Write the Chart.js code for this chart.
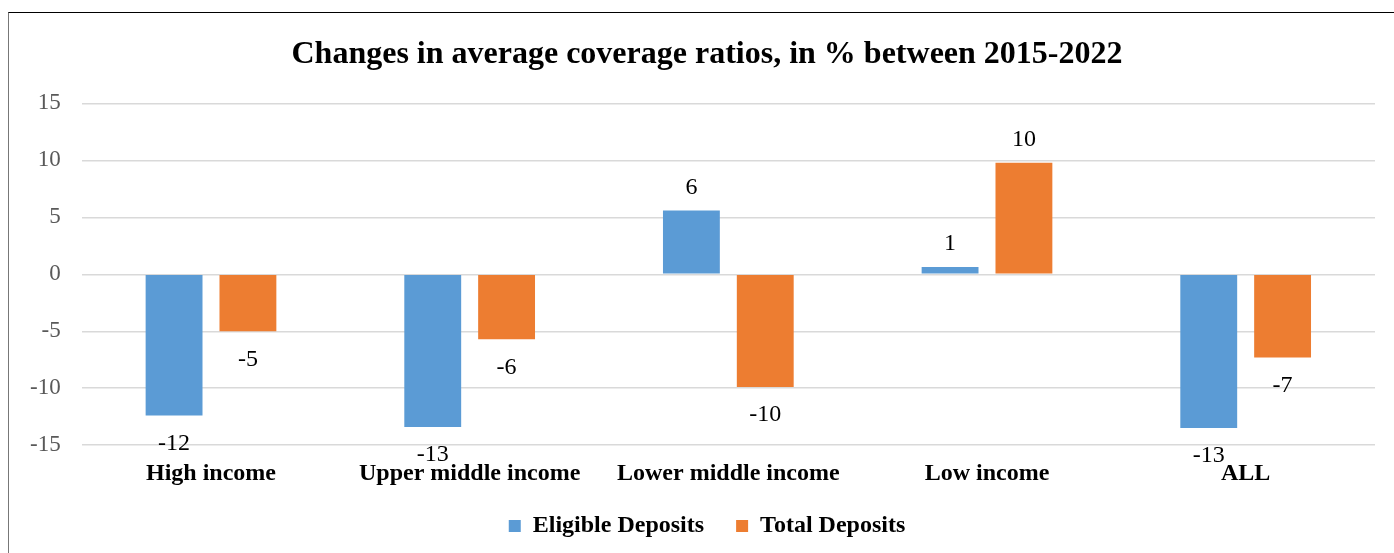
<!DOCTYPE html>
<html>
<head>
<meta charset="utf-8">
<script src="https://cdn.jsdelivr.net/npm/chart.js@4"></script>
<style>
  html, body { margin: 0; padding: 0; background: #fff; overflow: hidden; }
  #box {
    position: absolute; left: 8px; top: 12px;
    width: 1396px; height: 560px;
    border-top: 1.5px solid #000; border-left: 1.5px solid #777;
  }
  #wrap { position: absolute; left: 0; top: 0; width: 1396px; height: 535px; }
</style>
</head>
<body>
<div id="box"><div id="wrap"><canvas id="chart"></canvas></div></div>
<script>
// Data
const categories = ['High income', 'Upper middle income', 'Lower middle income', 'Low income', 'ALL'];
const eligibleDeposits = [-12.4, -13.4, 5.6, 0.65, -13.5];
const totalDeposits = [-5.0, -5.7, -9.9, 9.8, -7.3];
const yTicks = [-15, -10, -5, 0, 5, 10, 15];

const serif = "'Liberation Serif', 'Times New Roman', serif";

// Draw rounded values at the end of each bar
const valueLabels = {
    id: 'valueLabels',
    afterDatasetsDraw(chart) {
        const ctx = chart.ctx;
        ctx.save();
        ctx.font = '24px ' + serif;
        ctx.fillStyle = '#000';
        ctx.textAlign = 'center';
        ctx.textBaseline = 'middle';
        chart.data.datasets.forEach((ds, i) => {
            chart.getDatasetMeta(i).data.forEach((bar, j) => {
                const v = ds.data[j];
                const y = v >= 0 ? bar.y - 23 : bar.y + 28;
                ctx.fillText(Math.round(v), bar.x, y);
            });
        });
        ctx.restore();
    }
};

// Category names sit lower than Chart.js lets them inside the axis box,
// so write them at the x scale's tick positions instead
const categoryLabels = {
    id: 'categoryLabels',
    afterDraw(chart) {
        const ctx = chart.ctx;
        const x = chart.scales.x;
        const y = chart.scales.y.getPixelForValue(-15) + 29;
        ctx.save();
        ctx.font = 'bold 24px ' + serif;
        ctx.fillStyle = '#000';
        ctx.textAlign = 'center';
        ctx.textBaseline = 'middle';
        chart.data.labels.forEach((label, i) => {
            ctx.fillText(label, x.getPixelForTick(i), y);
        });
        ctx.restore();
    }
};

new Chart(document.getElementById('chart').getContext('2d'), {
    type: 'bar',
    data: {
        labels: categories,
        datasets: [
            { label: 'Eligible Deposits', data: eligibleDeposits, backgroundColor: '#5B9BD5' },
            { label: 'Total Deposits', data: totalDeposits, backgroundColor: '#ED7D31' }
        ]
    },
    options: {
        responsive: true,
        maintainAspectRatio: false,
        animation: false,
        datasets: { bar: { categoryPercentage: 0.571, barPercentage: 0.77 } },
        layout: { padding: { left: 0, right: 0, bottom: 0 } },
        plugins: {
            title: {
                display: true,
                text: 'Changes in average coverage ratios, in % between 2015-2022',
                color: '#000',
                font: { family: serif, size: 32, weight: 'bold' },
                padding: { top: 23, bottom: 29 }
            },
            legend: {
                position: 'bottom',
                labels: {
                    color: '#000',
                    font: { family: serif, size: 24, weight: 'bold' },
                    boxWidth: 12, boxHeight: 12,
                    padding: 32
                }
            },
            tooltip: { enabled: false }
        },
        scales: {
            x: {
                grid: { display: false, drawTicks: false },
                border: { display: false },
                ticks: {
                    // keeps the axis space; the visible names come from categoryLabels
                    color: 'rgba(0,0,0,0)',
                    font: { family: serif, size: 24, weight: 'bold', lineHeight: 0.2 },
                    padding: 16,
                    maxRotation: 0
                }
            },
            y: {
                min: -15, max: 15,
                afterBuildTicks: axis => { axis.ticks = yTicks.map(v => ({ value: v })); },
                grid: { color: '#d9d9d9', lineWidth: 1.5, drawTicks: false },
                border: { display: false },
                ticks: {
                    color: '#595959',
                    font: { family: serif, size: 23 },
                    padding: 21
                }
            },
            // empty right-hand spacer so the plot stops short of the frame
            yRight: {
                position: 'right',
                grid: { display: false, drawTicks: false },
                border: { display: false },
                ticks: { display: false },
                afterFit: s => { s.width = 30; }
            }
        }
    },
    plugins: [valueLabels, categoryLabels]
});
</script>
</body>
</html>
